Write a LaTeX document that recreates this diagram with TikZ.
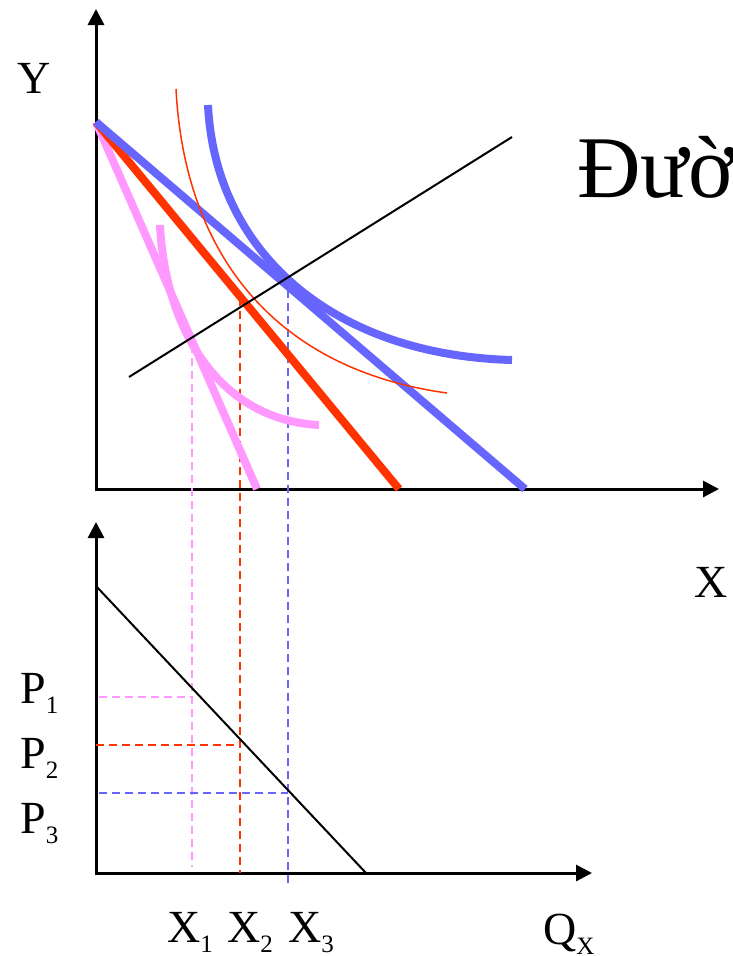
\documentclass[tikz,border=0pt]{standalone}
\usepackage{fontspec}
\setmainfont{Liberation Serif}
\usetikzlibrary{arrows.meta}
\definecolor{bluec}{RGB}{102,102,255}
\definecolor{redc}{RGB}{255,51,0}
\definecolor{pinkc}{RGB}{255,153,255}
\newcommand{\lowidx}[1]{\raisebox{-10pt}{\fontsize{25}{25}\selectfont #1}}

\begin{document}
\begin{tikzpicture}[
    x=1pt,
    y=-1pt,
    >={Triangle[length=16pt,width=16pt]},
    axis/.style={
        line width=3pt
    },
    thickline/.style={
        line width=8pt
    },
    guide/.style={
        line width=1.5pt,
        dash pattern=on 8pt off 5pt
    },
    lbl/.style={
        font=\fontsize{46}{46}\selectfont,
        inner sep=0pt,
        anchor=base west
    }
]
    \useasboundingbox (0,0) rectangle (732,956);

    % Upper axes
    \coordinate (O) at (96,489);
    \coordinate (Ytop) at (96,9);
    \coordinate (Xend) at (719,489);
    \draw[axis,<->] (Ytop) -- (O) -- (Xend);

    % Lower axes
    \coordinate (Q) at (96,873);
    \coordinate (Ptop) at (96,522);
    \coordinate (Qend) at (592,873);
    \draw[axis,<->] (Ptop) -- (Q) -- (Qend);

    % Projections
    \foreach \i/\c/\xx/\yt/\yb/\yp/\xs in {1/pinkc/192/345/867/697/99,
                                          2/redc/240/298/873/745/96,
                                          3/bluec/288/290/887/793/99} {
        \coordinate (T\i) at (\xx,\yt);
        \coordinate (F\i) at (\xx,\yb);
        \coordinate (L\i) at (\xs,\yp);
        \coordinate (M\i) at (\xx,\yp);
        \draw[guide,\c] (T\i) -- (F\i);
        \draw[guide,\c] (L\i) -- (M\i);
    }

    % Budget lines
    \coordinate (A) at (96,122);
    \coordinate (Bp) at (257,489);
    \coordinate (Br) at (399,489);
    \coordinate (Bb) at (525,489);
    \draw[thickline,pinkc] (A) -- (Bp);
    \draw[thickline,redc] (A) -- (Br);
    \draw[thickline,bluec] (A) -- (Bb);

    % Indifference curves
    \coordinate (U1s) at (160,225);
    \coordinate (U1e) at (319,425);
    \draw[thickline,pinkc] (U1s) .. controls (165,330) and (220,420) .. (U1e);

    \coordinate (U2s) at (176,89);
    \coordinate (U2e) at (447,393);
    \draw[line width=1.5pt,redc] (U2s) .. controls (185,260) and (280,370) .. (U2e);

    \coordinate (U3s) at (208,105);
    \coordinate (U3e) at (512,360);
    \draw[thickline,bluec] (U3s) .. controls (215,250) and (330,355) .. (U3e);

    % Income line
    \coordinate (I1) at (129,377);
    \coordinate (I2) at (512,137);
    \draw[line width=2pt] (I1) -- (I2);

    % Demand line
    \coordinate (D1) at (96,586);
    \coordinate (D2) at (366,873);
    \draw[line width=2pt] (D1) -- (D2);

    % Labels
    \node[lbl] (ylab) at (17,93) {Y};
    \node[lbl] (xlab) at (694,597) {X};
    \node[font=\fontsize{88}{88}\selectfont, inner sep=0pt, anchor=base west]
        (title) at (577,197) {Đườ};

    \node[lbl] (p1) at (20,703) {P\lowidx{1}};
    \node[lbl] (p2) at (20,768) {P\lowidx{2}};
    \node[lbl] (p3) at (20,833) {P\lowidx{3}};

    \node[lbl] (x1) at (167,942) {X\lowidx{1}};
    \node[lbl] (x2) at (227,942) {X\lowidx{2}};
    \node[lbl] (x3) at (288,942) {X\lowidx{3}};

    \node[lbl] (qx) at (543,944) {Q\lowidx{X}};

\end{tikzpicture}
\end{document}
